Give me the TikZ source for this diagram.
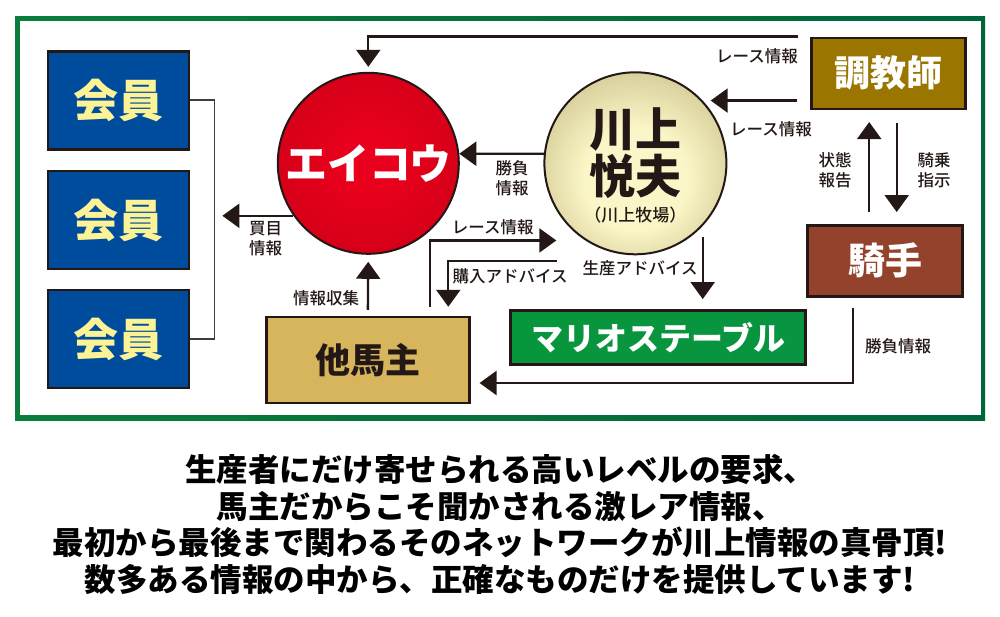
\documentclass[tikz,border=0pt]{standalone}
\usepackage{fontspec}
\setmainfont{Noto Sans CJK JP}
\newfontfamily\heavyjp{Noto Sans CJK JP Black}
\newfontfamily\midjp{Noto Sans CJK JP Medium}
\usetikzlibrary{arrows.meta}
\definecolor{ink}{HTML}{231815}
\definecolor{frameL}{RGB}{10,125,60}
\definecolor{frameM}{RGB}{50,168,62}
\definecolor{frameR}{RGB}{0,102,58}
\definecolor{kaiinC}{RGB}{0,76,156}
\definecolor{kaiinT}{RGB}{252,242,150}
\definecolor{redC}{RGB}{232,0,28}
\definecolor{redE}{RGB}{188,0,18}
\definecolor{goldC}{RGB}{251,246,200}
\definecolor{goldE}{RGB}{160,146,84}
\definecolor{chokyoC}{RGB}{154,118,0}
\definecolor{kishuC}{RGB}{147,67,43}
\definecolor{marioL}{RGB}{8,150,60}
\definecolor{marioM}{RGB}{44,170,74}
\definecolor{marioR}{RGB}{8,148,64}
\definecolor{tabaC}{RGB}{214,181,92}
\pgfdeclareradialshading{redball}{\pgfpoint{0bp}{0bp}}{color(0bp)=(redC); color(8bp)=(redC); color(50bp)=(redE)}
\pgfdeclareradialshading{goldball}{\pgfpoint{0bp}{-6bp}}{color(0bp)=(goldC); color(14bp)=(goldC); color(50bp)=(goldE)}
\newcommand\fsz[1]{\fontsize{#1}{#1}\selectfont}

\begin{document}
\begin{tikzpicture}[x=1pt,y=-1pt,
  box/.style={draw=ink,line width=2.5pt,inner sep=0pt,text=white,font=\fsz{36}\heavyjp},
  kaiin/.style={box,fill=kaiinC,text=kaiinT,minimum width=141pt,minimum height=98pt,font=\fsz{45}\heavyjp},
  ball/.style={circle,draw=ink,line width=2pt,inner sep=0pt},
  lbl/.style={text=ink,inner sep=0pt,align=center,font=\fontsize{16.5}{19.5}\selectfont\midjp},
  arr/.style={draw=ink,line width=2.3pt,-{Triangle[width=24pt,length=17pt]}},
  link/.style={draw=ink!85,line width=1.7pt}]
\useasboundingbox (0,0) rectangle (1000,616);
\fill[left color=frameL,middle color=frameM,right color=frameR] (15,16) rectangle (985,420);
\fill[white] (20,21) rectangle (980.5,415);

\node[kaiin] (m1) at (118.3,100.3) {会員};
\node[kaiin] (m2) at (118.3,220) {会員};
\node[kaiin] (m3) at (118.3,339) {会員};
\node[ball,shading=redball,minimum size=181pt,text=white,font=\fsz{42}\heavyjp] (eikou) at (368.3,163.3) {エイコウ};
\node[ball,shading=goldball,minimum size=182pt] (kawakami) at (635.4,163.3) {};
\node[text=ink,align=center,inner sep=0pt,font=\fontsize{46}{47}\selectfont\heavyjp] (kname) at (635.4,153.5) {川上\\悦夫};
\node[text=ink,inner sep=0pt,font=\fsz{17}\midjp] (kfarm) at (635.4,215) {（川上牧場）};
\node[box,fill=chokyoC,minimum width=154pt,minimum height=71pt] (chokyo) at (888.7,73.3) {調教師};
\node[box,fill=kishuC,minimum width=155pt,minimum height=71pt,font=\fsz{37}\heavyjp] (kishu) at (885.2,260.8) {騎手};
\node[box,left color=marioL,middle color=marioM,right color=marioR,minimum width=295pt,minimum height=54pt,font=\fsz{32}\bfseries] (mario) at (658.2,337.3) {マリオステーブル};
\node[box,fill=tabaC,text=ink,minimum width=203pt,minimum height=86pt,font=\fsz{35}\heavyjp] (tabanushi) at (367.8,360) {他馬主};

% members
\draw[link] (m1.east) -- ++(24.3,0) coordinate (brk) |- (m3.east);
\draw[arr,shorten >=8pt] (eikou.215) -- (eikou.215 -| brk);
\node[lbl] (kaime) at (265.5,238.5) {買目\\情報};

% trainer and jockey
\draw[arr,shorten <=12pt,shorten >=5pt] (chokyo.north west) -| (eikou.north);
\node[lbl] (race1) at (757,56.7) {レース情報};
\draw[arr,shorten <=13pt,shorten >=8pt] (chokyo.west |- kawakami.43) -- (kawakami.43);
\node[lbl] (race2) at (771,129) {レース情報};
\draw[arr,shorten <=12pt,shorten >=12pt] ([xshift=-16pt]kishu.north) -- ([xshift=-16pt]kishu.north |- chokyo.south);
\node[lbl] (jotai) at (835,170) {状態\\報告};
\draw[arr,shorten <=13pt,shorten >=12pt] ([xshift=8pt]chokyo.south) -- ([xshift=8pt]chokyo.south |- kishu.north);
\node[lbl] (kijo) at (934,170) {騎乗\\指示};

% kawakami
\draw[arr] (kawakami.174) -- (eikou.6);
\node[lbl] (shobu1) at (512,178) {勝負\\情報};
\draw[arr,shorten <=11pt,shorten >=10pt] (kawakami.-43) -- (kawakami.-43 |- mario.north);
\node[lbl] (seisan) at (640,268) {生産アドバイス};

% other owners
\draw[arr,shorten <=9pt,shorten >=29pt] ([xshift=62pt]tabanushi.north) |- (kawakami.237);
\node[lbl] (race3) at (492.7,227) {レース情報};
\coordinate (buy) at (557,261);
\draw[arr,shorten >=9pt] (buy) -| ([xshift=80.5pt]tabanushi.north);
\node[lbl] (konyu) at (510,276) {購入アドバイス};
\draw[arr,shorten <=6pt,shorten >=7pt] (tabanushi.north) -- (eikou.south);
\node[lbl] (shushu) at (326,298) {情報収集};
\draw[arr,shorten <=10pt,shorten >=9pt] ([xshift=-32.5pt]kishu.south) |- ([yshift=-23pt]tabanushi.east);
\node[lbl] (shobu2) at (898,346) {勝負情報};

\node[text=black,align=center,inner sep=0pt,font=\fontsize{31.5}{36.5}\bfseries\selectfont] (slogan) at (500,524.5)
  {生産者にだけ寄せられる高いレベルの要求、\\馬主だからこそ聞かされる激レア情報、\\最初から最後まで関わるそのネットワークが川上情報の真骨頂!\\数多ある情報の中から、正確なものだけを提供しています!};
\end{tikzpicture}
\end{document}
